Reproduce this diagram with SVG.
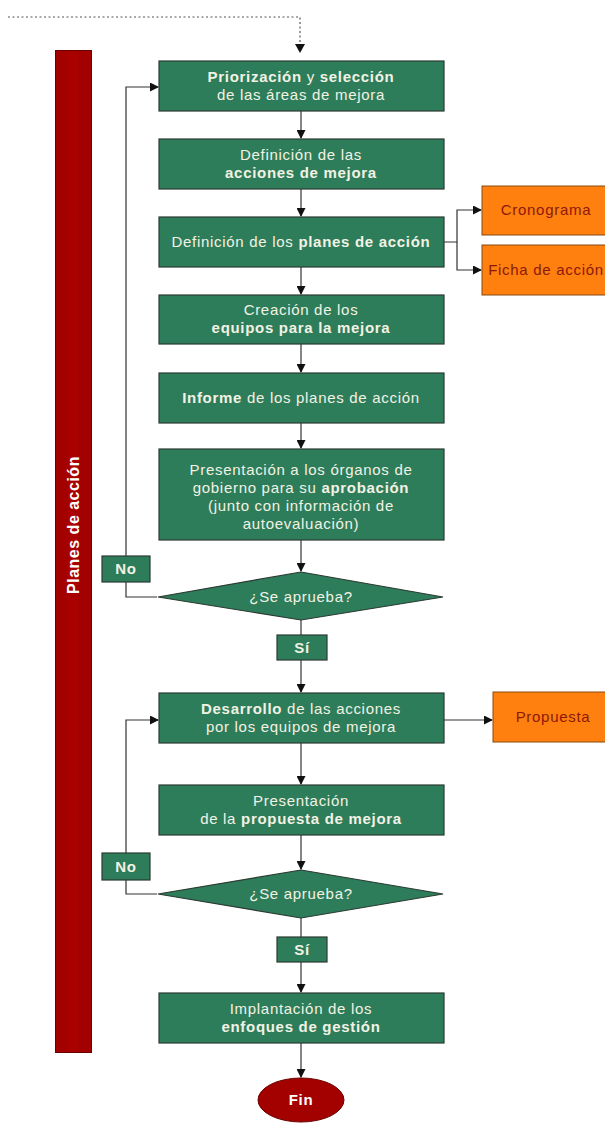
<svg xmlns="http://www.w3.org/2000/svg" width="605" height="1124" viewBox="0 0 605 1124">
  <style>
    .box { fill: #2e7d5a; stroke: #2b3a32; stroke-width: 1.2; }
    .opt { fill: #ff7f0f; stroke: #8a4a10; stroke-width: 1; }
    .t { font-family: "Liberation Sans", Arial, sans-serif; font-size: 15px; letter-spacing: 0.7px; fill: #f2f2e4; text-anchor: middle; }
    .ot { font-family: "Liberation Sans", Arial, sans-serif; font-size: 15px; letter-spacing: 0.7px; fill: #8b1a0a; text-anchor: middle; }
    .b { font-weight: bold; }
    .ln { fill: none; stroke: #333; stroke-width: 1.2; }
  </style>
  <defs>
    <marker id="ah" markerWidth="9" markerHeight="9" refX="8" refY="4.5" orient="auto" markerUnits="userSpaceOnUse">
      <path d="M0,0 L9,4.5 L0,9 Z" fill="#111"/>
    </marker>
  </defs>
  <rect width="605" height="1124" fill="#fff"/>

  <!-- side band -->
  <g id="band">
    <rect x="55.5" y="50.5" width="36" height="1002" fill="#a30000" stroke="#6a0000" stroke-width="1"/>
    <rect x="68" y="52" width="10" height="999" fill="#b00000" opacity="0.5"/>
    <text class="t b" transform="translate(79,525) rotate(-90)" style="fill:#fff;font-size:16px;letter-spacing:0.5px">Planes de acción</text>
  </g>

  <g id="connectors">
    <!-- incoming dotted link -->
    <path d="M8,17 H300 V45" fill="none" stroke="#555" stroke-width="1.2" stroke-dasharray="2,2.5"/>
    <path d="M295,44 L300,53 L305,44 Z" fill="#111"/>
    <!-- main flow -->
    <path class="ln" d="M301,111 V138" marker-end="url(#ah)"/>
    <path class="ln" d="M301,189 V216" marker-end="url(#ah)"/>
    <path class="ln" d="M301,267 V294" marker-end="url(#ah)"/>
    <path class="ln" d="M301,344 V372" marker-end="url(#ah)"/>
    <path class="ln" d="M301,423 V448" marker-end="url(#ah)"/>
    <path class="ln" d="M301,540 V571" marker-end="url(#ah)"/>
    <path class="ln" d="M301,620 V635"/>
    <path class="ln" d="M301,660 V692" marker-end="url(#ah)"/>
    <path class="ln" d="M301,743 V784" marker-end="url(#ah)"/>
    <path class="ln" d="M301,835 V869" marker-end="url(#ah)"/>
    <path class="ln" d="M301,918 V937"/>
    <path class="ln" d="M301,962 V992" marker-end="url(#ah)"/>
    <path class="ln" d="M301,1043 V1077" marker-end="url(#ah)"/>
    <!-- branches to side outputs -->
    <path class="ln" d="M444,242 H457 V210 H481" marker-end="url(#ah)"/>
    <path class="ln" d="M457,242 V270 H481" marker-end="url(#ah)"/>
    <path class="ln" d="M444,720 H492" marker-end="url(#ah)"/>
    <!-- rejection loops -->
    <path class="ln" d="M157,597 H126 V87 H158" marker-end="url(#ah)"/>
    <path class="ln" d="M157,894 H126 V720 H158" marker-end="url(#ah)"/>
  </g>

  <g id="n1">
    <rect class="box" x="159" y="61" width="285" height="50"/>
    <text class="t" x="301" y="82"><tspan class="b">Priorización</tspan> y <tspan class="b">selección</tspan></text>
    <text class="t" x="301" y="100">de las áreas de mejora</text>
  </g>
  <g id="n2">
    <rect class="box" x="159" y="139" width="285" height="50"/>
    <text class="t" x="301" y="160">Definición de las</text>
    <text class="t b" x="301" y="178">acciones de mejora</text>
  </g>
  <g id="n3">
    <rect class="box" x="159" y="217" width="285" height="50"/>
    <text class="t" x="301" y="247">Definición de los <tspan class="b">planes de acción</tspan></text>
  </g>
  <g id="n4">
    <rect class="box" x="159" y="295" width="285" height="49"/>
    <text class="t" x="301" y="315">Creación de los</text>
    <text class="t b" x="301" y="333">equipos para la mejora</text>
  </g>
  <g id="n5">
    <rect class="box" x="159" y="373" width="285" height="50"/>
    <text class="t" x="301" y="403"><tspan class="b">Informe</tspan> de los planes de acción</text>
  </g>
  <g id="n6">
    <rect class="box" x="159" y="449" width="285" height="91"/>
    <text class="t" x="301" y="475">Presentación a los órganos de</text>
    <text class="t" x="301" y="493">gobierno para su <tspan class="b">aprobación</tspan></text>
    <text class="t" x="301" y="511">(junto con información de</text>
    <text class="t" x="301" y="529">autoevaluación)</text>
  </g>
  <g id="d1">
    <polygon class="box" points="301,572 443,597 301,620 158,597"/>
    <text class="t" x="301" y="602">¿Se aprueba?</text>
  </g>
  <g id="no1">
    <rect class="box" x="102" y="556" width="48" height="26"/>
    <text class="t b" x="126" y="574">No</text>
  </g>
  <g id="si1">
    <rect class="box" x="277" y="635" width="50" height="25"/>
    <text class="t b" x="302" y="653">Sí</text>
  </g>
  <g id="n7">
    <rect class="box" x="159" y="693" width="285" height="50"/>
    <text class="t" x="301" y="714"><tspan class="b">Desarrollo</tspan> de las acciones</text>
    <text class="t" x="301" y="732">por los equipos de mejora</text>
  </g>
  <g id="n8">
    <rect class="box" x="159" y="785" width="285" height="50"/>
    <text class="t" x="301" y="806">Presentación</text>
    <text class="t" x="301" y="824">de la <tspan class="b">propuesta de mejora</tspan></text>
  </g>
  <g id="d2">
    <polygon class="box" points="301,870 443,894 301,918 158,894"/>
    <text class="t" x="301" y="899">¿Se aprueba?</text>
  </g>
  <g id="no2">
    <rect class="box" x="102" y="853" width="48" height="27"/>
    <text class="t b" x="126" y="872">No</text>
  </g>
  <g id="si2">
    <rect class="box" x="277" y="937" width="50" height="25"/>
    <text class="t b" x="302" y="955">Sí</text>
  </g>
  <g id="n9">
    <rect class="box" x="159" y="993" width="285" height="50"/>
    <text class="t" x="301" y="1014">Implantación de los</text>
    <text class="t b" x="301" y="1032">enfoques de gestión</text>
  </g>
  <g id="fin">
    <ellipse cx="301" cy="1100" rx="43" ry="22" fill="#a30000" stroke="#6a0000" stroke-width="1"/>
    <text class="t b" x="301" y="1105" style="fill:#fff">Fin</text>
  </g>

  <g id="o1">
    <rect class="opt" x="482" y="186" width="130" height="49"/>
    <text class="ot" x="546" y="215">Cronograma</text>
  </g>
  <g id="o2">
    <rect class="opt" x="482" y="245" width="130" height="50"/>
    <text class="ot" x="546" y="275">Ficha de acción</text>
  </g>
  <g id="o3">
    <rect class="opt" x="493" y="692" width="120" height="50"/>
    <text class="ot" x="553" y="722">Propuesta</text>
  </g>
</svg>
